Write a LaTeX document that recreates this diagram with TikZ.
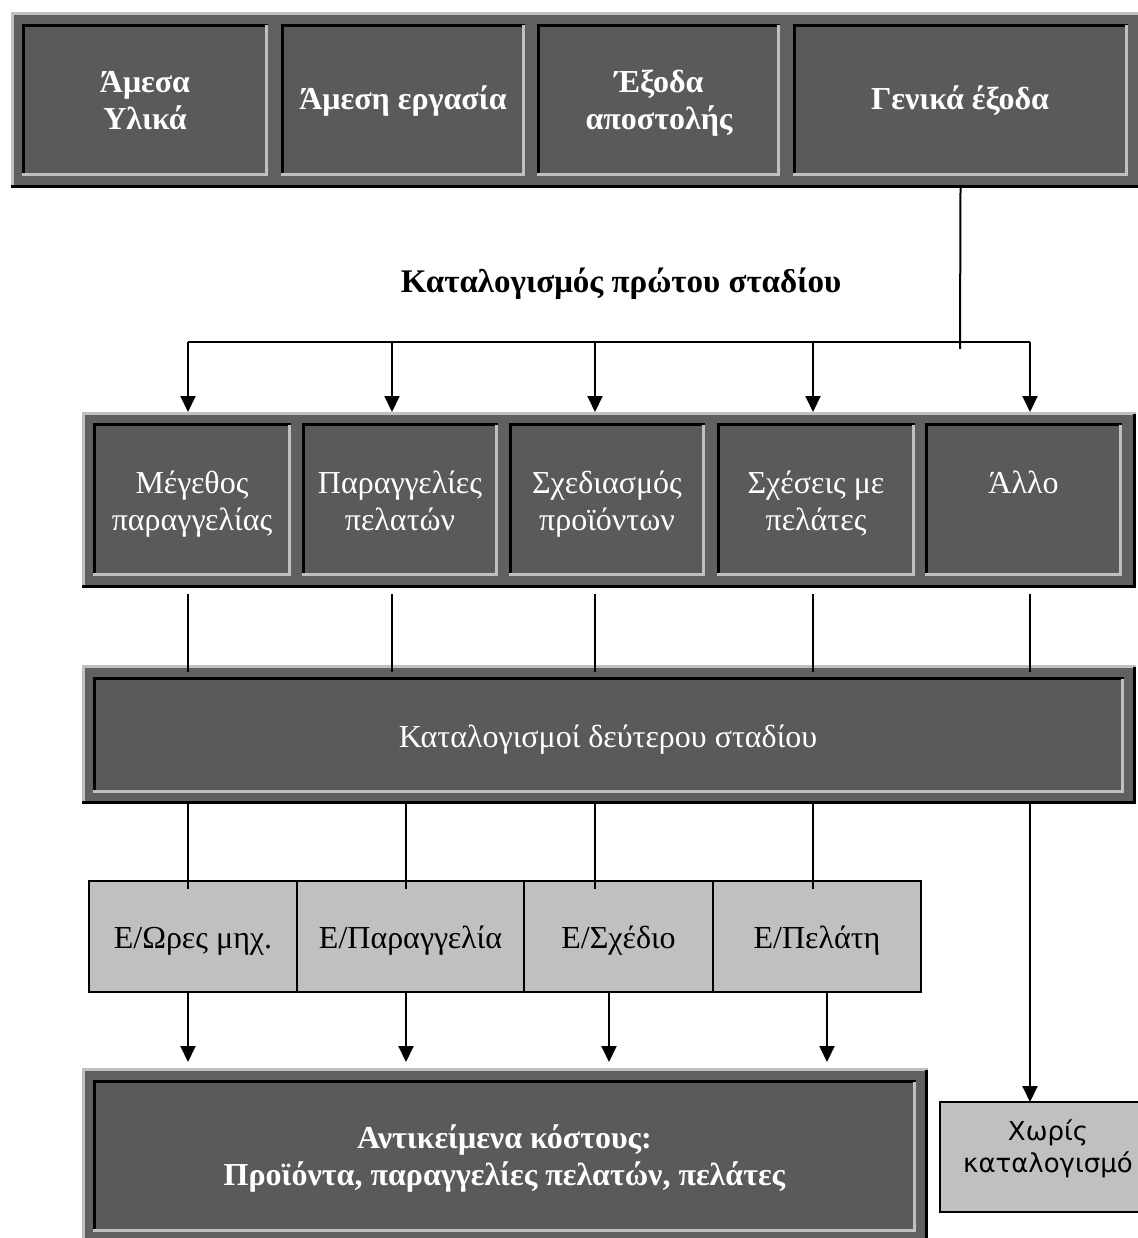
\documentclass[tikz,border=0pt]{standalone}
\usepackage{fontspec}
\setmainfont{Liberation Serif}
\newfontfamily\sansgr{DejaVu Sans}
\usetikzlibrary{arrows.meta,calc,fit}
\definecolor{dk}{HTML}{5A5A5A}
\definecolor{dkf}{HTML}{606060}
\definecolor{lg}{HTML}{C0C0C0}
\newcommand{\twolines}[2]{\vtop{\halign{\hfil##\hfil\cr #1\cr #2\cr}}}
\newcommand{\bevIn}[1]{%
  \draw[line width=3pt,black] ($(#1.south west)+(1.5,0)$) -- ($(#1.north west)+(1.5,1.5)$) -- ($(#1.north east)+(0,1.5)$);
  \draw[line width=3pt,lg] ($(#1.north east)+(-1.5,1.5)$) -- ($(#1.south east)+(-1.5,-1.5)$) -- ($(#1.south west)+(0,-1.5)$);}
\newcommand{\bevOut}[1]{%
  \draw[line width=3pt,lg] ($(#1.south west)+(1.5,0)$) -- ($(#1.north west)+(1.5,1.5)$) -- ($(#1.north east)+(0,1.5)$);
  \draw[line width=3pt,black] ($(#1.north east)+(-1.5,1.5)$) -- ($(#1.south east)+(-1.5,-1.5)$) -- ($(#1.south west)+(0,-1.5)$);}
\begin{document}
\begin{tikzpicture}[x=1pt,y=-1pt,
  frm/.style={fill=dkf,draw=none,inner sep=0pt,outer sep=0pt},
  cellbox/.style={fill=dk,draw=none,inner sep=0pt,outer sep=0pt},
  lcell/.style={fill=lg,draw=black,line width=2pt,inner sep=0pt,outer sep=0pt},
  wtxt/.style={text=white,inner sep=0pt,anchor=base,font=\fontsize{32}{37}\selectfont},
  wbold/.style={text=white,inner sep=0pt,anchor=base,font=\bfseries\fontsize{32}{37}\selectfont},
  btxt/.style={text=black,inner sep=0pt,anchor=base,font=\fontsize{32}{37}\selectfont},
  conn/.style={line width=2pt},
  arr/.style={line width=2pt,-{Triangle[width=15pt,length=16pt]}}]
\fill[white] (0,0) rectangle (1137,1238);
\useasboundingbox (0,0) rectangle (1137,1238);

% frames
\node[frm,fit={(11,12)(1150,188)}] (f1) {};
\node[frm,fit={(82,412)(1136,588)}] (f2) {};
\node[frm,fit={(82,665)(1136,804)}] (f3) {};
\node[frm,fit={(82,1068)(928,1250)}] (f4) {};
\bevOut{f1}\bevOut{f2}\bevOut{f3}\bevOut{f4}

% dark cells
\node[cellbox,fit={(22,24)(268,176)}] (c11) {};
\node[cellbox,fit={(281,24)(525,176)}] (c12) {};
\node[cellbox,fit={(537,24)(780,176)}] (c13) {};
\node[cellbox,fit={(793,24)(1128,176)}] (c14) {};
\node[cellbox,fit={(93,423)(291,576)}] (c21) {};
\node[cellbox,fit={(302,423)(498,576)}] (c22) {};
\node[cellbox,fit={(509,423)(705,576)}] (c23) {};
\node[cellbox,fit={(717,423)(915,576)}] (c24) {};
\node[cellbox,fit={(925,423)(1122,576)}] (c25) {};
\node[cellbox,fit={(93,677)(1124,793)}] (c3) {};
\node[cellbox,fit={(93,1080)(916,1232)}] (c4) {};
\foreach \n in {c11,c12,c13,c14,c21,c22,c23,c24,c25,c3,c4} {\bevIn{\n}}

% light cells
\node[lcell,fit={(89,881)(297,992)}] (e1) {};
\node[lcell,fit={(297,881)(524,992)}] (e2) {};
\node[lcell,fit={(524,881)(713,992)}] (e3) {};
\node[lcell,fit={(713,881)(921,992)}] (e4) {};
\node[lcell,fit={(940,1102)(1160,1212)}] (x1) {};

% texts
\node[wbold] (t11) at (145,93) {\twolines{Άμεσα}{Υλικά}};
\node[wbold] (t12) at (403,110) {Άμεση εργασία};
\node[wbold] (t13) at (659,93) {\twolines{Έξοδα}{αποστολής}};
\node[wbold] (t14) at (960,110) {Γενικά έξοδα};
\node[btxt,font=\bfseries\fontsize{33}{37}\selectfont] (h1) at (621,292) {Καταλογισμός πρώτου σταδίου};
\node[wtxt] (t21) at (192,493) {\twolines{Μέγεθος}{παραγγελίας}};
\node[wtxt] (t22) at (400,493) {\twolines{Παραγγελίες}{πελατών}};
\node[wtxt] (t23) at (607,493) {\twolines{Σχεδιασμός}{προϊόντων}};
\node[wtxt] (t24) at (816,493) {\twolines{Σχέσεις με}{πελάτες}};
\node[wtxt] (t25) at (1023.5,493) {Άλλο};
\node[wtxt] (t3) at (608,747) {Καταλογισμοί δεύτερου σταδίου};
\node[btxt] (te1) at (193,948) {Ε/Ωρες μηχ.};
\node[btxt] (te2) at (410.5,948) {Ε/Παραγγελία};
\node[btxt] (te3) at (618.5,948) {Ε/Σχέδιο};
\node[btxt] (te4) at (817,948) {Ε/Πελάτη};
\node[wbold] (t4) at (504.5,1148) {\twolines{Αντικείμενα κόστους:}{Προϊόντα, παραγγελίες πελατών, πελάτες}};
\node[btxt,font=\sansgr\fontsize{26}{32}\selectfont] (t5) at (1048,1140) {\twolines{Χωρίς}{καταλογισμό}};

% column coordinates
\coordinate (kA1) at (188,0);
\coordinate (kA2) at (392,0);
\coordinate (kA3) at (595,0);
\coordinate (kA4) at (813,0);
\coordinate (kA5) at (1030,0);
\coordinate (kB2) at (406,0);
\coordinate (kC3) at (609,0);
\coordinate (kC4) at (827,0);
\coordinate (busL) at (188,342);
\coordinate (busR) at (1030,342);
\coordinate (busJ) at (960,349);

% connectors
\draw[conn] (f1.south -| c14.south) -- (busJ);
\draw[conn] (busL) -- (busR);
\foreach \k in {kA1,kA2,kA3,kA4,kA5} {\draw[arr] (\k |- busL) -- (\k |- f2.north);}
\foreach \k in {kA1,kA2,kA3,kA4,kA5} {\draw[conn] ($(\k |- f2.south)+(0,6)$) -- ($(\k |- f3.north)+(0,7)$);}
\foreach \k/\e in {kA1/e1,kB2/e2,kA3/e3,kA4/e4} {\draw[line width=1.6pt] ($(\k |- f3.south)+(0,-3)$) -- ($(\k |- \e.north)+(0,8)$);}
\foreach \k/\e in {kA1/e1,kB2/e2,kC3/e3,kC4/e4} {\draw[arr] ($(\k |- \e.south)+(0,1)$) -- ($(\k |- f4.north)+(0,-6)$);}
\draw[arr] (kA5 |- f3.south) -- (kA5 |- x1.north);
\end{tikzpicture}
\end{document}
